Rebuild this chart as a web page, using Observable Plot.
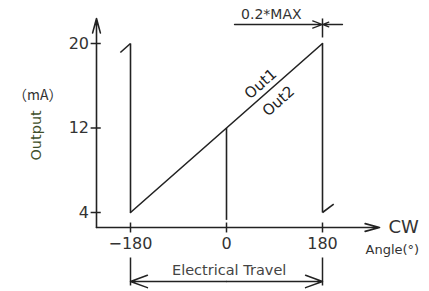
<!DOCTYPE html>
<html>
<head>
<meta charset="utf-8">
<script src="https://cdn.jsdelivr.net/npm/d3@7"></script>
<script src="https://cdn.jsdelivr.net/npm/@observablehq/plot@0.6"></script>
<style>
  html, body { margin: 0; padding: 0; background: #fff; }
  svg { display: block; }
</style>
</head>
<body>
<div id="chart"></div>
<script>
// ---- data (angle in degrees, output in mA) ----
const xTicks = [-180, 0, 180];
const xTickLabels = ["−180", "0", "180"];
const yTicks = [4, 12, 20];
const yTickLabels = ["4", "12", "20"];
const outputRamp = [{angle: -180, mA: 4}, {angle: 180, mA: 20}];
const dropLines = [
  {angle: -180, from: 4, to: 20},
  {angle: 0, from: 3.3, to: 12},
  {angle: 180, from: 4, to: 20}
];
const hooks = [
  {a1: -199, m1: 19.15, a2: -180, m2: 20},
  {a1: 180, m1: 4, a2: 201, m2: 4.8}
];
const seriesLabels = ["Out1", "Out2"];
const travelStart = -180, travelEnd = 180;
const maxMarkAngle = 180;

// axis placement in data units
const yAxisAt = -243.75;   // angle where the y axis stands
const xAxisAt = 2.58;      // mA where the x axis runs
const yAxisTop = 22.37;
const xAxisEnd = 287;

const ink = "#222";
const font = "DejaVu Sans, sans-serif";

const chart = Plot.plot({
  width: 429,
  height: 291,
  margin: 0,
  style: {background: "#fff", fontFamily: font},
  x: {domain: [-180, 180], range: [130, 322], axis: null},
  y: {domain: [4, 20], range: [212, 43], axis: null},
  marks: [
    // axes
    Plot.arrow([0], {x1: yAxisAt, y1: xAxisAt, x2: yAxisAt, y2: yAxisTop, stroke: ink, strokeWidth: 1.6, headLength: 14, headAngle: 30}),
    Plot.arrow([0], {x1: yAxisAt, y1: xAxisAt, x2: xAxisEnd, y2: xAxisAt, stroke: ink, strokeWidth: 1.6, headLength: 14, headAngle: 30}),
    // y ticks + labels
    Plot.link(yTicks, {x1: yAxisAt - 11, x2: yAxisAt + 8, y1: d => d, y2: d => d, stroke: ink, strokeWidth: 1.5}),
    Plot.text(yTicks, {x: yAxisAt - 14, y: d => d, text: (d, i) => yTickLabels[i], textAnchor: "end", fontSize: 16, fill: "#333"}),
    // x ticks + labels
    Plot.link(xTicks, {x1: d => d, x2: d => d, y1: xAxisAt - 0.47, y2: xAxisAt + 0.47, stroke: ink, strokeWidth: 1.5}),
    Plot.text(xTicks, {x: d => d, y: xAxisAt - 1.55, text: (d, i) => xTickLabels[i], fontSize: 16, fill: "#333"}),
    // output ramp
    Plot.line(outputRamp, {x: "angle", y: "mA", stroke: ink, strokeWidth: 1.6}),
    Plot.link(dropLines, {x1: "angle", x2: "angle", y1: "from", y2: "to", stroke: ink, strokeWidth: 1.6}),
    Plot.link(hooks, {x1: "a1", y1: "m1", x2: "a2", y2: "m2", stroke: ink, strokeWidth: 1.6}),
    // series labels along the ramp
    Plot.text([seriesLabels[0]], {x: 64, y: 12 + 64 * 16 / 360, text: d => d, rotate: -41.4, dy: -14, fontSize: 15, fill: "#222"}),
    Plot.text([seriesLabels[1]], {x: 97.5, y: 12 + 97.5 * 16 / 360, text: d => d, rotate: -41.4, dy: 19, fontSize: 15, fill: "#222"}),
    // axis titles
    Plot.text(["Output"], {x: -356, y: 11.3, text: d => d, rotate: -90, fontSize: 14.5, fill: "#3f4f2a"}),
    Plot.text(["（mA）"], {x: -354, y: 15.08, text: d => d, fontSize: 14, fill: "#333", fontFamily: "Noto Sans CJK SC, DejaVu Sans, sans-serif"}),
    Plot.text(["CW"], {x: 332, y: xAxisAt, text: d => d, fontSize: 18, fill: "#333"}),
    Plot.text(["Angle(°)"], {x: 311, y: 0.5, text: d => d, fontSize: 13, fill: "#333"}),
    // electrical travel dimension
    Plot.link([travelStart, travelEnd], {x1: d => d, x2: d => d, y1: -0.26, y2: -2.91, stroke: ink, strokeWidth: 1.5}),
    Plot.arrow([travelStart, travelEnd], {x1: 0, y1: -2.53, x2: d => d, y2: -2.53, stroke: ink, strokeWidth: 1.5, headLength: 18, headAngle: 40}),
    Plot.text(["Electrical Travel"], {x: 5, y: -1.49, text: d => d, fontSize: 14.5, fill: "#444"}),
    // 0.2*MAX dimension
    Plot.link([maxMarkAngle], {x1: d => d, x2: d => d, y1: 20.57, y2: 22.37, stroke: ink, strokeWidth: 1.5}),
    Plot.arrow([maxMarkAngle], {x1: 15, y1: 21.8, x2: d => d, y2: 21.8, stroke: ink, strokeWidth: 1.3, headLength: 12, headAngle: 40}),
    Plot.arrow([maxMarkAngle], {x1: 217.5, y1: 21.8, x2: d => d, y2: 21.8, stroke: ink, strokeWidth: 1.3, headLength: 12, headAngle: 40}),
    Plot.text(["0.2*MAX"], {x: 84, y: 22.75, text: d => d, fontSize: 14, fill: "#333"})
  ]
});
document.getElementById("chart").appendChild(chart);
</script>
</body>
</html>
